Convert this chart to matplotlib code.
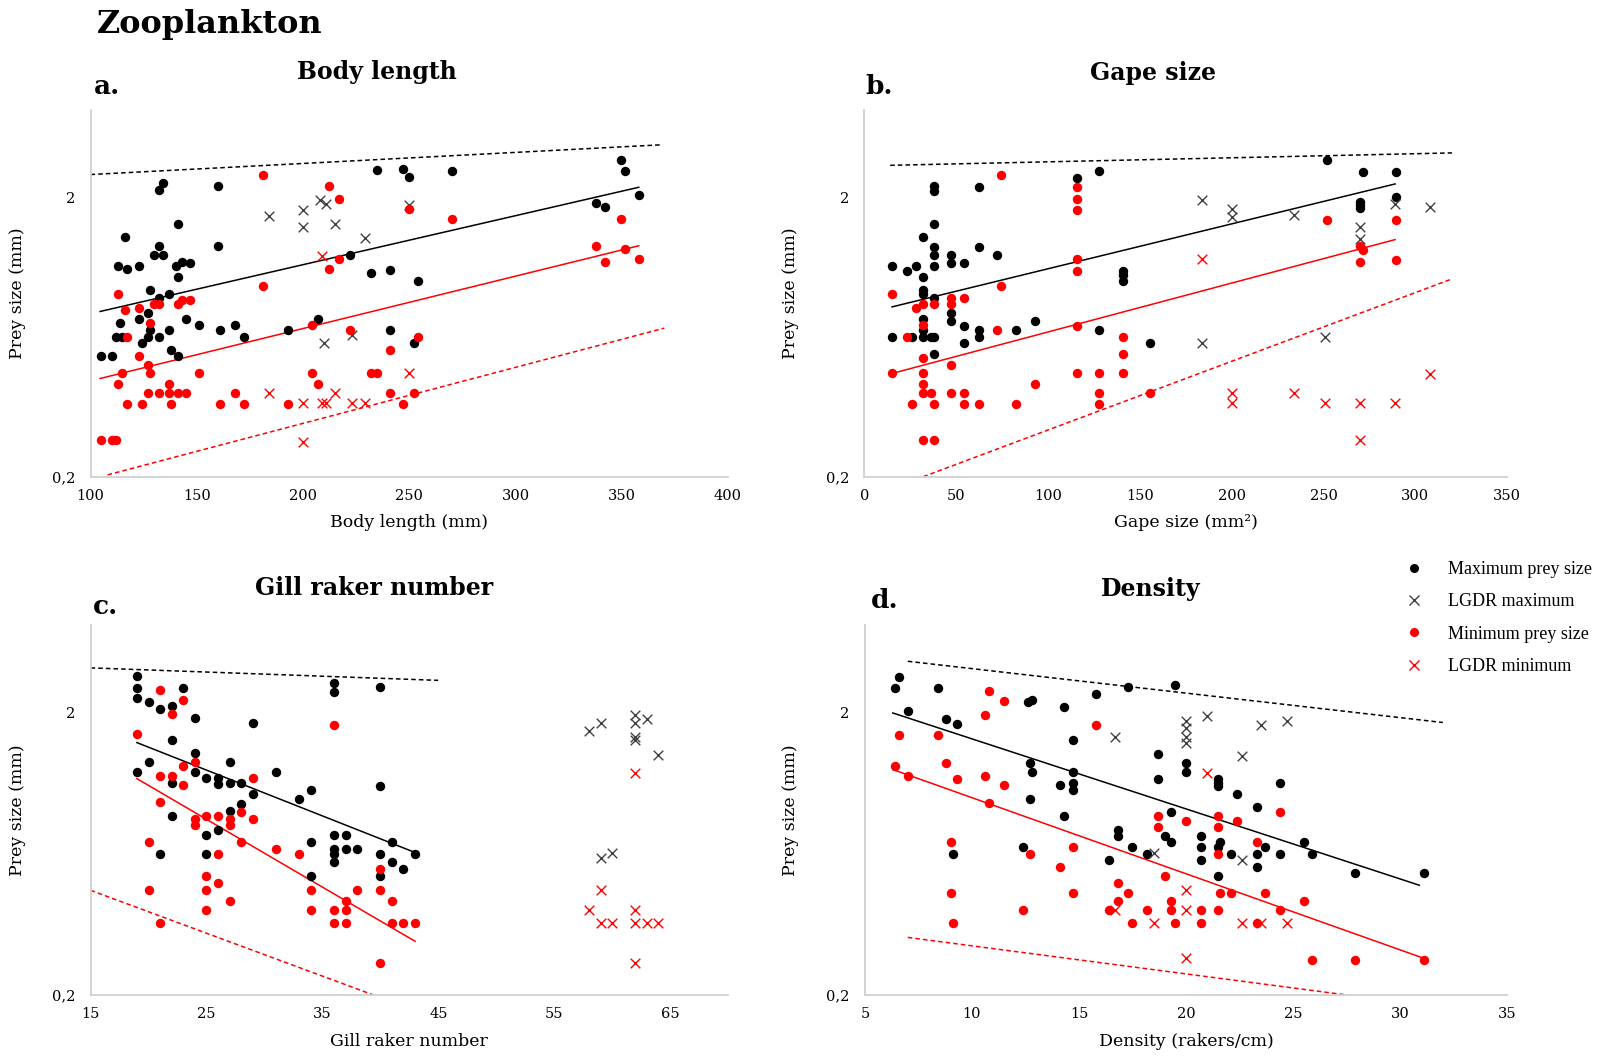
import matplotlib
matplotlib.use("Agg")
import matplotlib.pyplot as plt
from matplotlib.lines import Line2D
from matplotlib.ticker import FixedLocator, FixedFormatter, NullLocator

# %%
# a. Body length (mm) vs prey size (mm)
a_max_x = [105, 110, 113, 117, 123, 116, 114, 112, 115, 123, 124, 127, 128, 127, 128,
           132, 134, 132, 130, 134, 132, 132, 137, 137, 138, 141, 141, 140, 143, 147,
           141, 145, 151, 160, 160, 161, 168, 172, 193, 207, 222, 232, 241, 241, 235,
           247, 250, 254, 252, 270, 338, 342, 349.5, 351.5, 358]
a_max_y = [0.54, 0.54, 1.13, 1.11, 1.13, 1.44, 0.71, 0.63, 0.63, 0.735, 0.60, 0.63, 0.93, 0.77, 0.67,
           2.13, 2.25, 1.34, 1.24, 1.24, 0.87, 0.63, 0.90, 0.67, 0.57, 1.61, 1.04, 1.13, 1.17, 1.16,
           0.54, 0.735, 0.70, 2.20, 1.34, 0.67, 0.70, 0.63, 0.67, 0.735, 1.24, 1.07, 1.10, 0.67, 2.50,
           2.52, 2.36, 1.00, 0.60, 2.48, 1.91, 1.85, 2.72, 2.48, 2.04]
a_lmax_x = [184, 200, 200, 208, 211, 215, 229, 250, 210, 223]
a_lmax_y = [1.71, 1.80, 1.57, 1.96, 1.89, 1.60, 1.43, 1.88, 0.60, 0.64]
a_min_x = [181, 212, 217, 250, 270, 349.5, 338, 342, 351.5, 358, 217, 212, 181, 113, 116,
           123, 130, 132, 141, 143, 147, 128, 117, 123, 127, 128, 115, 113, 137, 127,
           132, 137, 141, 145, 117, 124, 138, 151, 161, 168, 172, 193, 204, 204, 207,
           222, 232, 235, 241, 241, 247, 252, 254, 105, 110, 112]
a_min_y = [2.41, 2.20, 1.97, 1.82, 1.67, 1.67, 1.34, 1.17, 1.31, 1.20, 1.20, 1.11, 0.96, 0.90, 0.79,
           0.80, 0.83, 0.83, 0.83, 0.86, 0.86, 0.71, 0.63, 0.54, 0.50, 0.47, 0.47, 0.43, 0.43, 0.40,
           0.40, 0.40, 0.40, 0.40, 0.365, 0.365, 0.365, 0.47, 0.365, 0.40, 0.365, 0.365, 0.70, 0.47, 0.43,
           0.67, 0.47, 0.47, 0.57, 0.40, 0.365, 0.40, 0.63, 0.27, 0.27, 0.27]
a_lmin_x = [209, 250, 184, 200, 209, 211, 215, 223, 229, 200]
a_lmin_y = [1.23, 0.47, 0.40, 0.366, 0.366, 0.366, 0.40, 0.366, 0.366, 0.267]
a_lgdr_max_x, a_lgdr_max_y = [100, 369], [2.41, 3.08]
a_fit_max_x, a_fit_max_y = [104.5, 358], [0.78, 2.17]
a_fit_min_x, a_fit_min_y = [104.5, 358], [0.449, 1.34]
a_lgdr_min_x, a_lgdr_min_y = [108, 370], [0.203, 0.68]

# b. Gape size (mm2)
b_max_x = [15, 23, 28, 15, 26, 32, 32, 32, 32, 32, 32, 32, 38, 38, 38, 38, 38, 38, 38, 38,
           36, 38, 47, 47, 47, 47, 54, 54, 54, 62.5, 62.5, 62.5, 62.5, 72, 82.5, 93, 115.5,
           128, 128, 141, 141, 141, 155.6, 252, 271.5, 270, 270, 270, 289.4, 289.4]
b_max_y = [1.13, 1.09, 1.13, 0.63, 0.63, 1.44, 1.04, 0.93, 0.90, 0.735, 0.67, 0.63, 2.20, 2.10,
           1.60, 1.33, 1.24, 1.13, 0.87, 0.63, 0.63, 0.55, 1.24, 1.16, 0.77, 0.72, 1.16, 0.69,
           0.60, 2.17, 1.33, 0.67, 0.63, 1.24, 0.67, 0.72, 2.35, 2.48, 0.67, 1.09, 1.05, 1.00,
           0.60, 2.72, 2.46, 1.92, 1.87, 1.83, 2.46, 2.00]
b_lmax_x = [184, 200, 200, 234, 270, 270, 289, 308, 184, 251]
b_lmax_y = [1.96, 1.81, 1.70, 1.72, 1.57, 1.42, 1.89, 1.85, 0.60, 0.63]
b_min_x = [74.6, 115.5, 115.5, 115.5, 115.5, 115.5, 115.5, 15, 28, 32, 38, 32, 23, 47, 47,
           54, 74.6, 72, 32, 32, 32, 32, 36, 15, 47, 47, 54, 26, 38, 54, 62.5, 82.5, 93, 32,
           38, 115.5, 128, 128, 128, 141, 141, 141, 155.6, 252, 270, 271.5, 270, 289.4, 289.4]
b_min_y = [2.41, 2.17, 1.97, 1.80, 1.20, 1.09, 0.69, 0.90, 0.80, 0.83, 0.83, 0.70, 0.63, 0.87,
           0.83, 0.87, 0.96, 0.67, 0.53, 0.47, 0.43, 0.40, 0.40, 0.47, 0.50, 0.40, 0.40, 0.365,
           0.365, 0.365, 0.365, 0.365, 0.43, 0.27, 0.27, 0.47, 0.47, 0.40, 0.365, 0.63, 0.55,
           0.47, 0.40, 1.66, 1.34, 1.29, 1.17, 1.66, 1.19]
b_lmin_x = [184, 200, 200, 234, 251, 270, 289, 308, 270]
b_lmin_y = [1.20, 0.40, 0.366, 0.40, 0.366, 0.366, 0.366, 0.465, 0.27]
b_lgdr_max_x, b_lgdr_max_y = [14, 320], [2.6, 2.88]
b_fit_max_x, b_fit_max_y = [15, 289], [0.81, 2.23]
b_fit_min_x, b_fit_min_y = [15, 289], [0.468, 1.41]
b_lgdr_min_x, b_lgdr_min_y = [32, 320], [0.2, 1.02]

# c. Gill raker number
c_max_x = [19, 19, 19, 20, 21, 22, 23, 24, 22, 24, 24, 19, 20, 22, 22, 21, 25, 25, 25, 26,
           26, 26, 27, 27, 27, 28, 28, 29, 29, 31, 33, 34, 34, 34, 36, 36, 36, 36, 36, 36,
           37, 37, 38, 40, 40, 40, 40, 41, 41, 42, 43]
c_max_y = [2.71, 2.45, 2.26, 2.18, 2.06, 2.12, 2.45, 1.92, 1.61, 1.44, 1.24, 1.24, 1.34, 1.13,
           0.86, 0.63, 1.18, 0.74, 0.63, 1.18, 1.12, 0.77, 1.34, 1.13, 0.90, 1.13, 0.95, 1.85,
           1.03, 1.24, 0.99, 1.07, 0.70, 0.53, 2.56, 2.37, 0.74, 0.66, 0.63, 0.59, 0.74, 0.66,
           0.66, 2.47, 1.10, 0.63, 0.53, 0.70, 0.59, 0.56, 0.63]
c_lmax_x = [58, 59, 62, 62, 62, 62, 63, 64, 59, 60]
c_lmax_y = [1.73, 1.85, 1.97, 1.84, 1.65, 1.60, 1.90, 1.42, 0.61, 0.64]
c_min_x = [21, 23, 22, 19, 36, 23, 24, 21, 22, 23, 29, 21, 24, 24, 25, 26, 27, 27, 28, 29,
           28, 20, 26, 31, 33, 25, 26, 20, 25, 27, 25, 21, 34, 34, 36, 36, 37, 37, 37, 38,
           40, 40, 41, 41, 42, 43, 40]
c_min_y = [2.42, 2.23, 1.98, 1.68, 1.81, 1.30, 1.34, 1.20, 1.20, 1.11, 1.18, 0.97, 0.84, 0.80,
           0.86, 0.86, 0.84, 0.80, 0.89, 0.84, 0.70, 0.70, 0.63, 0.66, 0.63, 0.53, 0.50, 0.47,
           0.47, 0.43, 0.40, 0.36, 0.47, 0.40, 0.40, 0.36, 0.43, 0.40, 0.36, 0.47, 0.56, 0.47,
           0.43, 0.36, 0.36, 0.36, 0.26]
c_lmin_x = [62, 59, 58, 59, 60, 62, 62, 63, 64, 62]
c_lmin_y = [1.22, 0.47, 0.40, 0.36, 0.36, 0.40, 0.36, 0.36, 0.36, 0.26]
c_lgdr_max_x, c_lgdr_max_y = [15, 45], [2.89, 2.61]
c_fit_max_x, c_fit_max_y = [19, 43], [1.57, 0.64]
c_fit_min_x, c_fit_min_y = [19, 43], [1.17, 0.31]
c_lgdr_min_x, c_lgdr_min_y = [15, 39.4], [0.47, 0.2]

# d. Density (rakers/cm)
d_max_x = [6.4, 6.6, 7.0, 8.4, 8.8, 9.3, 9.1, 12.6, 12.8, 12.7, 12.8, 12.7, 12.4, 14.3, 14.7,
           14.1, 14.7, 14.7, 14.7, 14.3, 15.8, 17.3, 19.5, 18.7, 18.7, 20, 20, 19.3, 16.8, 16.8,
           17.5, 16.4, 18.2, 19, 19.3, 20.7, 20.7, 20.7, 21.5, 21.5, 21.5, 21.5, 21.6, 21.5,
           22.1, 22.4, 23.3, 23.3, 23.3, 23.7, 24.4, 24.4, 25.5, 25.9, 27.9, 31.1]
d_max_y = [2.45, 2.69, 2.04, 2.45, 1.90, 1.83, 0.63, 2.18, 2.23, 1.33, 1.23, 0.99, 0.67, 2.10,
           1.61, 1.11, 1.23, 1.13, 1.07, 0.86, 2.34, 2.48, 2.51, 1.43, 1.17, 1.33, 1.23, 0.89,
           0.77, 0.73, 0.67, 0.60, 0.63, 0.73, 0.70, 0.73, 0.67, 0.60, 1.17, 1.13, 1.10, 0.67,
           0.70, 0.53, 0.63, 1.03, 0.93, 0.63, 0.57, 0.67, 1.13, 0.63, 0.70, 0.63, 0.54, 0.54]
d_lmax_x = [16.7, 20, 20, 20, 20, 21, 22.6, 23.5, 24.7, 18.5, 22.6]
d_lmax_y = [1.65, 1.87, 1.77, 1.65, 1.56, 1.95, 1.41, 1.81, 1.87, 0.64, 0.60]
d_min_x = [6.4, 6.6, 7.0, 8.4, 8.8, 9.3, 9.0, 9.0, 9.1, 10.8, 11.5, 10.6, 10.6, 11.5, 10.8,
           12.7, 12.4, 14.1, 14.7, 14.7, 15.8, 16.8, 16.8, 17.3, 16.4, 17.5, 18.2, 18.7, 18.7,
           19, 19.3, 19.3, 19.5, 20, 20.7, 20.7, 21.5, 21.5, 21.5, 21.6, 22.1, 21.5, 22.4,
           23.3, 23.7, 23.3, 24.4, 24.4, 25.5, 25.9, 27.9, 31.1]
d_min_y = [1.30, 1.67, 1.20, 1.67, 1.33, 1.17, 0.70, 0.46, 0.36, 2.40, 2.21, 1.96, 1.20, 1.11,
           0.96, 0.63, 0.40, 0.57, 0.67, 0.46, 1.81, 0.50, 0.43, 0.46, 0.40, 0.36, 0.40, 0.86,
           0.79, 0.53, 0.43, 0.40, 0.36, 0.83, 0.40, 0.36, 0.86, 0.79, 0.63, 0.46, 0.46, 0.40,
           0.83, 0.70, 0.46, 0.36, 0.89, 0.40, 0.43, 0.265, 0.265, 0.265]
d_lmin_x = [21, 20, 16.7, 20, 18.5, 22.6, 23.5, 24.7, 20]
d_lmin_y = [1.22, 0.47, 0.40, 0.40, 0.36, 0.36, 0.36, 0.36, 0.27]
d_lgdr_max_x, d_lgdr_max_y = [7.0, 32], [3.05, 1.85]
d_fit_max_x, d_fit_max_y = [6.3, 30.9], [2.0, 0.49]
d_fit_min_x, d_fit_min_y = [6.3, 31.1], [1.26, 0.27]
d_lgdr_min_x, d_lgdr_min_y = [7.0, 27.5], [0.32, 0.2]

RED = "#ff0000"
GREY_X = "#404040"
SPINE = "#d0d0d0"

plt.rcParams["font.family"] = ["DejaVu Serif"]


# %%
def prey_panel(ax, pts, lines, xlim, xticks, xlabel):
    (mx, my), (lmx, lmy), (nx, ny), (lnx, lny) = pts
    (dmx, dmy), (fmx, fmy), (fnx, fny), (dnx, dny) = lines

    ax.plot(dmx, dmy, color="black", lw=1.1, ls=(0, (3, 2)))
    ax.plot(fmx, fmy, color="black", lw=1.1)
    ax.plot(fnx, fny, color=RED, lw=1.1)
    ax.plot(dnx, dny, color=RED, lw=1.1, ls=(0, (3, 2)))

    ax.scatter(mx, my, s=46, color="black", zorder=3, linewidths=0)
    ax.scatter(lmx, lmy, s=48, marker="x", color=GREY_X, linewidths=1.0, zorder=3)
    ax.scatter(nx, ny, s=46, color=RED, zorder=3, linewidths=0)
    ax.scatter(lnx, lny, s=48, marker="x", color=RED, linewidths=1.0, zorder=3)

    ax.set_yscale("log")
    ax.set_ylim(0.2, 4.1)
    ax.yaxis.set_major_locator(FixedLocator([0.2, 2]))
    ax.yaxis.set_major_formatter(FixedFormatter(["0,2", "2"]))
    ax.yaxis.set_minor_locator(NullLocator())
    ax.set_xlim(*xlim)
    ax.set_xticks(xticks)

    for side in ["top", "right"]:
        ax.spines[side].set_visible(False)
    for side in ["left", "bottom"]:
        ax.spines[side].set_color(SPINE)
        ax.spines[side].set_linewidth(1.3)
    ax.tick_params(axis="both", length=0, labelsize=10.5)
    ax.tick_params(axis="x", pad=9)
    ax.tick_params(axis="y", pad=11)

    ax.set_xlabel(xlabel, fontsize=12.5)
    ax.set_ylabel("Prey size (mm)", fontsize=12.5)
    ax.xaxis.set_label_coords(0.5, -0.103)
    ax.yaxis.set_label_coords(-0.102, 0.5)
    return ax


W, H = 1600, 1056
fig = plt.figure(figsize=(W / 100, H / 100), dpi=100)

ax_a = fig.add_axes([0.0566, 0.5486, 0.3984, 0.3472])
ax_b = fig.add_axes([0.5403, 0.5486, 0.4016, 0.3472])
ax_c = fig.add_axes([0.0566, 0.0578, 0.3984, 0.3503])
ax_d = fig.add_axes([0.5406, 0.0578, 0.4013, 0.3503])

prey_panel(
    ax_a,
    [(a_max_x, a_max_y), (a_lmax_x, a_lmax_y), (a_min_x, a_min_y), (a_lmin_x, a_lmin_y)],
    [(a_lgdr_max_x, a_lgdr_max_y), (a_fit_max_x, a_fit_max_y),
     (a_fit_min_x, a_fit_min_y), (a_lgdr_min_x, a_lgdr_min_y)],
    (100, 400), range(100, 401, 50), "Body length (mm)",
)
prey_panel(
    ax_b,
    [(b_max_x, b_max_y), (b_lmax_x, b_lmax_y), (b_min_x, b_min_y), (b_lmin_x, b_lmin_y)],
    [(b_lgdr_max_x, b_lgdr_max_y), (b_fit_max_x, b_fit_max_y),
     (b_fit_min_x, b_fit_min_y), (b_lgdr_min_x, b_lgdr_min_y)],
    (0, 350), range(0, 351, 50), "Gape size (mm\u00b2)",
)
prey_panel(
    ax_c,
    [(c_max_x, c_max_y), (c_lmax_x, c_lmax_y), (c_min_x, c_min_y), (c_lmin_x, c_lmin_y)],
    [(c_lgdr_max_x, c_lgdr_max_y), (c_fit_max_x, c_fit_max_y),
     (c_fit_min_x, c_fit_min_y), (c_lgdr_min_x, c_lgdr_min_y)],
    (15, 70), range(15, 66, 10), "Gill raker number",
)
prey_panel(
    ax_d,
    [(d_max_x, d_max_y), (d_lmax_x, d_lmax_y), (d_min_x, d_min_y), (d_lmin_x, d_lmin_y)],
    [(d_lgdr_max_x, d_lgdr_max_y), (d_fit_max_x, d_fit_max_y),
     (d_fit_min_x, d_fit_min_y), (d_lgdr_min_x, d_lgdr_min_y)],
    (5, 35), range(5, 36, 5), "Density (rakers/cm)",
)


def ftext(x, y, s, **kw):
    # x, y in pixels from top-left
    fig.text(x / W, 1 - y / H, s, **kw)


ftext(97, 24, "Zooplankton", fontsize=23, fontweight="bold", va="center")
ftext(94, 86, "a.", fontsize=19, fontweight="bold", va="center")
ftext(865, 86, "b.", fontsize=19, fontweight="bold", va="center")
ftext(93, 606, "c.", fontsize=19, fontweight="bold", va="center")
ftext(871, 601, "d.", fontsize=19, fontweight="bold", va="center")
ftext(377, 72, "Body length", fontsize=17, fontweight="bold", ha="center", va="center")
ftext(1153, 73, "Gape size", fontsize=17, fontweight="bold", ha="center", va="center")
ftext(374, 588, "Gill raker number", fontsize=17, fontweight="bold", ha="center", va="center")
ftext(1151, 589, "Density", fontsize=17, fontweight="bold", ha="center", va="center")

handles = [
    Line2D([], [], ls="none", marker="o", ms=5.5, color="black"),
    Line2D([], [], ls="none", marker="x", ms=7, mew=1.0, color=GREY_X),
    Line2D([], [], ls="none", marker="o", ms=5.5, color=RED),
    Line2D([], [], ls="none", marker="x", ms=7, mew=1.0, color=RED),
]
labels = ["Maximum prey size", "LGDR maximum", "Minimum prey size", "LGDR minimum"]
fig.legend(
    handles, labels,
    loc="upper left",
    bbox_to_anchor=(1396 / W, 1 - 561 / H),
    frameon=False,
    prop={"family": "Liberation Serif", "size": 13},
    handletextpad=0.9,
    labelspacing=0.85,
    borderaxespad=0,
    borderpad=0,
)

fig.savefig("out.png", dpi=100)
